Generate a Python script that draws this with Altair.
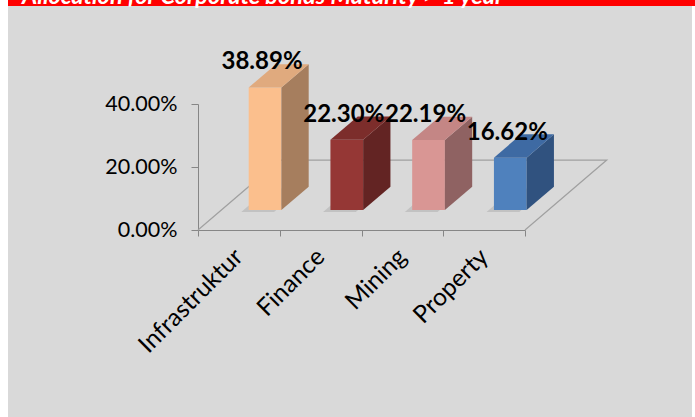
import json
import altair as alt
import pandas as pd

# ---- data ----
categories = ["Infrastruktur", "Finance", "Mining", "Property"]
values = [38.89, 22.30, 22.19, 16.62]          # percent
front_colors = ["#fbbf8d", "#953735", "#d99694", "#4f81bd"]
side_colors = ["#a67e5e", "#632423", "#8f6262", "#30527f"]
top_colors = ["#e0aa7e", "#7c2d2b", "#c48685", "#3e6aa3"]
y_ticks = [0, 20, 40]
title_text = "Allocation for Corporate bonds Maturity > 1 year"

# ---- 3D projection settings (style) ----
DX, DY = 1.0, 22.2          # full floor depth in x units / y units
Z0, Z1 = 0.286, 0.62        # bar depth range (fraction of floor depth)
A, W = 0.334, 0.4           # bar start / width inside category
N = len(categories)
FONT = "Lato"

front_rows, side_rows, top_rows, shadow_rows, label_rows = [], [], [], [], []
for i, (c, v) in enumerate(zip(categories, values)):
    xl = i + A + Z0 * DX
    xr = xl + W
    dd = (Z1 - Z0) * DX
    b0, b1 = Z0 * DY, Z1 * DY
    t0, t1 = b0 + v, b1 + v
    front_rows.append(dict(key=c, x=xl, x2=xr, y=b0, y2=t0, col=front_colors[i]))
    side_rows += [dict(key=c, x=xr, lo=b0, hi=t0, col=side_colors[i]),
                  dict(key=c, x=xr + dd, lo=b1, hi=t1, col=side_colors[i])]
    top_rows += [dict(key=c, x=xl, lo=t0, hi=t0, col=top_colors[i]),
                 dict(key=c, x=xl + dd, lo=t0, hi=t1, col=top_colors[i]),
                 dict(key=c, x=xr, lo=t0, hi=t1, col=top_colors[i]),
                 dict(key=c, x=xr + dd, lo=t1, hi=t1, col=top_colors[i])]
    s = 0.09
    sy = 0.6
    shadow_rows += [dict(key=c, x=xl - s, lo=b0 - sy, hi=b0 - sy),
                    dict(key=c, x=xl - s + dd, lo=b0 - sy, hi=b1 - sy),
                    dict(key=c, x=xr - s, lo=b0 - sy, hi=b1 - sy),
                    dict(key=c, x=xr - s + dd, lo=b1 - sy, hi=b1 - sy)]
    label_rows.append(dict(key=c, x=(xl + xr) / 2, y=t0,
                           text=f"{v:.2f}%"))

floor_rows = [dict(o=0, x=0, y=0), dict(o=1, x=DX, y=DY),
              dict(o=2, x=N + DX, y=DY), dict(o=3, x=N, y=0)]

xs = alt.Scale(domain=[0, N], nice=False, zero=False)
ys = alt.Scale(domain=[0, 40], nice=False, zero=False)

names_js = json.dumps(categories)
x_axis = alt.Axis(
    values=[k / 2 for k in range(2 * N + 1)],
    labelExpr=f"datum.value % 1 === 0.5 ? {names_js}[floor(datum.value)] : ''",
    tickOpacity={"condition": {"test": "datum.value % 1 === 0", "value": 1}, "value": 0},
    labelAngle=315, labelAlign="right", labelBaseline="middle",
    labelPadding=17, tickSize=6, labelOverlap=False, labelFlush=False,
    labelBound=False, grid=False, title=None,
    domainColor="#868686", tickColor="#868686",
    labelFont=FONT, labelFontSize=24.5, labelColor="#000000",
)
y_axis = alt.Axis(
    values=y_ticks, labelExpr="format(datum.value, '.2f') + '%'",
    tickSize=7, labelPadding=14, grid=False, title=None,
    domainColor="#868686", tickColor="#868686",
    labelFont=FONT, labelFontSize=21.5, labelColor="#000000",
)

one = pd.DataFrame({"a": [0]})
PL, PT = 198, 104
W_VIEW, H_VIEW = 327, 126
PR = 695 - PL - W_VIEW
PB = 417 - PT - H_VIEW

white_left = alt.Chart(one).mark_rect(color="#ffffff").encode(
    x=alt.value(-PL), x2=alt.value(8 - PL), y=alt.value(-PT), y2=alt.value(417 - PT))
white_right = alt.Chart(one).mark_rect(color="#ffffff").encode(
    x=alt.value(692 - PL), x2=alt.value(695 - PL), y=alt.value(6 - PT), y2=alt.value(417 - PT))
red_band = alt.Chart(one).mark_rect(color="#ff0000").encode(
    x=alt.value(8 - PL), x2=alt.value(695 - PL), y=alt.value(-PT), y2=alt.value(6 - PT))
title = alt.Chart(one).mark_text(
    text=title_text, font=FONT, fontSize=23.5, fontWeight="bold", fontStyle="italic",
    color="#ffffff", align="left", baseline="alphabetic").encode(
    x=alt.value(22 - PL), y=alt.value(4 - PT))

floor = alt.Chart(pd.DataFrame(floor_rows)).mark_line(color="#a0a0a0", strokeWidth=1.2).encode(
    x=alt.X("x:Q", scale=xs, axis=x_axis),
    y=alt.Y("y:Q", scale=ys, axis=y_axis),
    order="o:Q")

shadow = alt.Chart(pd.DataFrame(shadow_rows)).mark_area(color="#bcbcbc", opacity=0.8).encode(
    x=alt.X("x:Q", scale=xs), y=alt.Y("lo:Q", scale=ys), y2="hi:Q", detail="key:N")

front = alt.Chart(pd.DataFrame(front_rows)).mark_rect().encode(
    x=alt.X("x:Q", scale=xs), x2="x2:Q",
    y=alt.Y("y:Q", scale=ys), y2="y2:Q",
    color=alt.Color("col:N", scale=None))

side = alt.Chart(pd.DataFrame(side_rows)).mark_area().encode(
    x=alt.X("x:Q", scale=xs), y=alt.Y("lo:Q", scale=ys), y2="hi:Q",
    detail="key:N", color=alt.Color("col:N", scale=None))

top = alt.Chart(pd.DataFrame(top_rows)).mark_area().encode(
    x=alt.X("x:Q", scale=xs), y=alt.Y("lo:Q", scale=ys), y2="hi:Q",
    detail="key:N", color=alt.Color("col:N", scale=None))

labels = alt.Chart(pd.DataFrame(label_rows)).mark_text(
    font=FONT, fontSize=24, fontWeight="bold", color="#000000",
    baseline="alphabetic", align="center", dy=-18, dx=-3).encode(
    x=alt.X("x:Q", scale=xs), y=alt.Y("y:Q", scale=ys), text="text:N")

chart = alt.layer(
    white_left, white_right, red_band, title, floor, shadow, front, side, top, labels
).properties(
    width=W_VIEW, height=H_VIEW,
    padding={"left": PL, "top": PT, "right": PR, "bottom": PB},
    autosize=alt.AutoSizeParams(type="none"),
    background="#d9d9d9",
).configure_view(stroke=None)

chart.save("out.html", embed_options={"renderer": "svg", "actions": False})
